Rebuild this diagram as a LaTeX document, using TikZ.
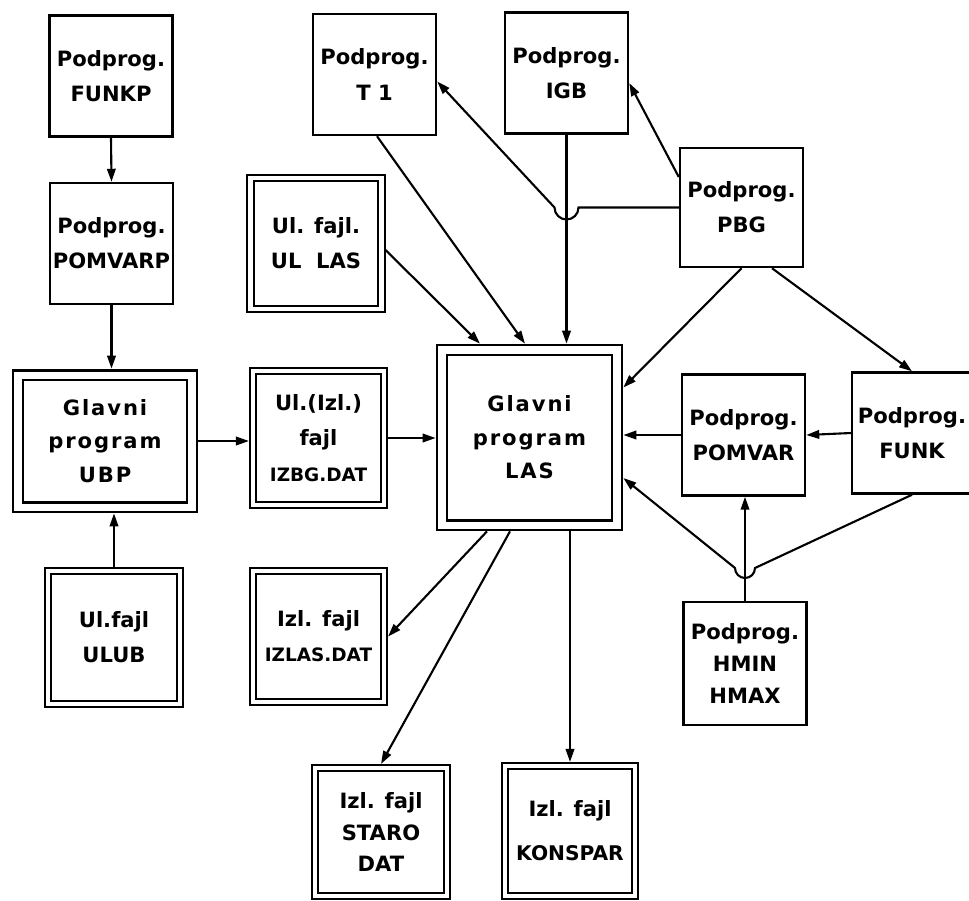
\documentclass[tikz,border=0pt]{standalone}
\usepackage{fontspec}
\setmainfont{DejaVu Sans}
\newfontfamily\lblfont{DejaVu Sans}
\newfontfamily\widefont[LetterSpace=9]{DejaVu Sans}
\usepackage{tikz}
\usetikzlibrary{arrows.meta,positioning,calc}

\begin{document}
\begin{tikzpicture}[
  sub/.style={draw,line width=1.4pt,inner sep=0pt,minimum width=2.46cm,
              minimum height=2.42cm,align=center,
              font=\lblfont\bfseries\fontsize{12}{20}\selectfont},
  file/.style={draw,double,line width=1.1pt,double distance=2.4pt,outer sep=2.3pt,
               inner sep=0pt,minimum width=2.62cm,minimum height=2.62cm,align=center,
               font=\lblfont\bfseries\fontsize{12}{20}\selectfont},
  mainprog/.style={draw,double,line width=1.6pt,double distance=4pt,outer sep=3.6pt,
                   inner sep=0pt,minimum width=3.5cm,minimum height=3.5cm,align=center,
                   font=\widefont\bfseries\fontsize{12}{19}\selectfont},
  arr/.style={-{Triangle[length=2.6mm,width=1.7mm]},line width=1.2pt}
]
\useasboundingbox (0,0) rectangle (19.38,-18);

% left column
\node[sub] (FUNKP) at (2.22,-1.52) {Podprog.\\FUNKP};
\node[sub] (POMVARP) at (2.23,-4.87) {Podprog.\\POMVARP};
\node[mainprog,minimum width=3.48cm,minimum height=2.64cm] (UBP) at (2.1,-8.82) {Glavni\\program\\UBP};
\node[file,minimum width=2.64cm,minimum height=2.66cm] (ULUB) at (2.28,-12.75) {Ul.fajl\\ULUB};

% upper row
\node[sub] (T1) at (7.49,-1.49) {Podprog.\\T 1};
\node[sub] (IGB) at (11.33,-1.46) {Podprog.\\IGB};
\node[file] (ULLAS) at (6.32,-4.87) {Ul. fajl.\\UL\ \ LAS};
\node[sub,minimum height=2.38cm] (PBG) at (14.83,-4.15) {Podprog.\\PBG};

% middle row
\node[file,minimum height=2.68cm] (IZBG) at (6.37,-8.76)
  {Ul.(Izl.)\\fajl\\{\fontsize{10.5}{20}\selectfont IZBG.DAT}};
\node[mainprog] (LAS) at (10.59,-8.75) {Glavni\\program\\LAS};
\node[sub] (POMVAR) at (14.87,-8.7) {Podprog.\\POMVAR};
\node[sub,minimum width=2.4cm] (FUNK) at (18.24,-8.66) {Podprog.\\FUNK};

% lower rows
\node[file] (IZLAS) at (6.37,-12.73) {Izl. fajl\\{\fontsize{10.5}{20}\selectfont IZLAS.DAT}};
\node[sub,minimum height=2.46cm,font=\lblfont\bfseries\fontsize{12}{18}\selectfont]
  (HMIN) at (14.9,-13.27) {Podprog.\\HMIN\\HMAX};
\node[file,minimum width=2.64cm,minimum height=2.56cm,font=\lblfont\bfseries\fontsize{12}{18}\selectfont]
  (STARO) at (7.62,-16.64) {Izl. fajl\\STARO\\DAT};
\node[file,minimum width=2.6cm,minimum height=2.6cm] (KONSPAR) at (11.4,-16.62)
  {Izl. fajl\\[5pt]{\fontsize{11.5}{20}\selectfont KONSPAR}};

% hops
\coordinate (hopA) at (IGB.south |- PBG.west);
\coordinate (hopB) at (14.9,-11.36);

% connections
\draw[arr] (FUNKP.south) -- (POMVARP.north);
\draw[arr] (POMVARP.south) -- (POMVARP.south |- UBP.north);
\draw[arr] (ULUB.north) -- (ULUB.north |- UBP.south);
\draw[arr] (UBP.east) -- (UBP.east -| IZBG.west);
\draw[arr] (IZBG.east) -- (IZBG.east -| LAS.west);
\draw[arr] ([yshift=-0.13cm]ULLAS.east) -- ([xshift=-0.99cm]LAS.north);
\draw[arr] ([xshift=0.05cm]T1.south) -- ([xshift=-0.09cm]LAS.north);
\draw[arr] (IGB.south) -- (IGB.south |- LAS.north);
\draw[arr] (PBG.west) -- ([xshift=0.24cm]hopA) arc[start angle=0,end angle=-180,radius=0.24cm]
  -- ([yshift=-0.14cm]T1.east);
\draw[arr] ([yshift=0.61cm]PBG.west) -- ([yshift=-0.2cm]IGB.east);
\draw[arr] (PBG.south) -- ([yshift=1cm]LAS.east);
\draw[arr] ([xshift=0.61cm]PBG.south) -- (FUNK.north);
\draw[arr] (FUNK.west) -- (POMVAR.east);
\draw[arr] (POMVAR.west) -- (POMVAR.west -| LAS.east);
\draw[arr] (HMIN.north) -- (HMIN.north |- POMVAR.south);
\draw[arr] (FUNK.south) -- ([xshift=0.2cm]hopB) arc[start angle=0,end angle=-180,radius=0.2cm]
  -- ([yshift=-0.81cm]LAS.east);
\draw[arr] ([xshift=-0.85cm]LAS.south) -- (IZLAS.east);
\draw[arr] ([xshift=-0.39cm]LAS.south) -- (STARO.north);
\draw[arr] (KONSPAR.north |- LAS.south) -- (KONSPAR.north);
\end{tikzpicture}
\end{document}
